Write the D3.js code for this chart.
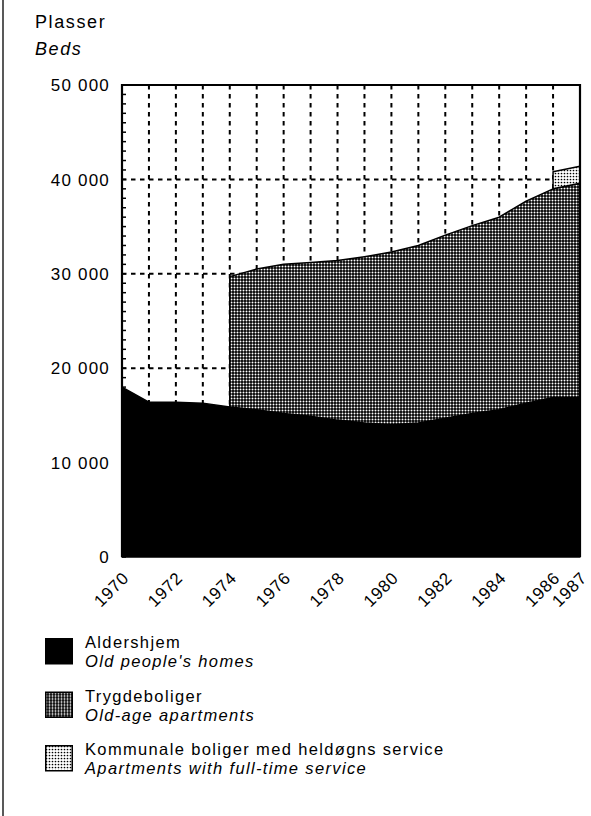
<!DOCTYPE html>
<html>
<head>
<meta charset="utf-8">
<script src="https://cdn.jsdelivr.net/npm/d3@7"></script>
<style>
  body { margin: 0; background: #fff; }
  svg text { font-family: "Liberation Sans", Arial, Helvetica, sans-serif; fill: #000; }
</style>
</head>
<body>
<div id="chart"></div>
<script>
// Years on the x axis
const years = [1970, 1971, 1972, 1973, 1974, 1975, 1976, 1977, 1978, 1979,
  1980, 1981, 1982, 1983, 1984, 1985, 1986, 1987]

// Beds per series (null = series not yet reported)
const aldershjem = [18000, 16400, 16400, 16300, 15900, 15600, 15200, 14900, 14500, 14200,
  14000, 14200, 14700, 15200, 15600, 16300, 16900, 16900]
const trygdeboliger = [null, null, null, null, 13800, 14900, 15800, 16300, 16900, 17600,
  18300, 18800, 19400, 19900, 20400, 21400, 22100, 22700]
const kommunale = [null, null, null, null, null, null, null, null, null, null,
  null, null, null, null, null, null, 1800, 1800]

const seriesKeys = ["aldershjem", "trygdeboliger", "kommunale"]
const seriesNames = [
  ["Aldershjem", "Old people's homes"],
  ["Trygdeboliger", "Old-age apartments"],
  ["Kommunale boliger med heldøgns service", "Apartments with full-time service"]
]

const yTicks = [0, 10000, 20000, 30000, 40000, 50000]
const xLabels = [1970, 1972, 1974, 1976, 1978, 1980, 1982, 1984, 1986, 1987]

const dimensions = {
  width: 591,
  height: 816,
  margin: { top: 85, right: 11, bottom: 259, left: 122 }
}
dimensions.boundedWidth = dimensions.width - dimensions.margin.left - dimensions.margin.right
dimensions.boundedHeight = dimensions.height - dimensions.margin.top - dimensions.margin.bottom

const rows = years.map((year, i) => ({
  year,
  aldershjem: aldershjem[i],
  trygdeboliger: trygdeboliger[i],
  kommunale: kommunale[i]
}))

const xScale = d3.scaleLinear()
  .domain([1970, 1987])
  .range([0, dimensions.boundedWidth])

const yScale = d3.scaleLinear()
  .domain([0, 50000])
  .range([dimensions.boundedHeight, 0])

const fmt = d3.formatLocale({ decimal: ",", thousands: " ", grouping: [3], currency: ["", ""] })
  .format(",d")

const svg = d3.select("#chart")
  .append("svg")
    .attr("width", dimensions.width)
    .attr("height", dimensions.height)

// Halftone fills
const defs = svg.append("defs")
const dense = defs.append("pattern")
  .attr("id", "dense")
  .attr("width", 3)
  .attr("height", 3)
  .attr("patternUnits", "userSpaceOnUse")
dense.append("rect").attr("width", 3).attr("height", 3).attr("fill", "#000")
dense.append("circle").attr("cx", 1.5).attr("cy", 1.5).attr("r", 1).attr("fill", "#fff")

const light = defs.append("pattern")
  .attr("id", "light")
  .attr("width", 3)
  .attr("height", 3)
  .attr("patternUnits", "userSpaceOnUse")
light.append("rect").attr("width", 3).attr("height", 3).attr("fill", "#fff")
light.append("circle").attr("cx", 1.5).attr("cy", 1.5).attr("r", 0.85).attr("fill", "#000")

const fills = ["#000", "url(#dense)", "url(#light)"]

// scanned page edge
svg.append("line")
  .attr("x1", 3).attr("x2", 3)
  .attr("y1", 0).attr("y2", dimensions.height)
  .attr("stroke", "#222")
  .attr("stroke-width", 1.5)

// Title
const title = svg.append("text")
  .attr("x", 35)
  .attr("y", 28)
  .style("font-size", "18px")
  .style("letter-spacing", "1.6px")
title.append("tspan").text("Plasser")
title.append("tspan")
  .attr("x", 35)
  .attr("dy", 27)
  .style("font-style", "italic")
  .text("Beds")

const bounds = svg.append("g")
  .attr("transform", `translate(${dimensions.margin.left}, ${dimensions.margin.top})`)

// Dashed grid, drawn under the areas
bounds.append("g")
  .selectAll("line")
  .data(years.slice(1, -1))
  .join("line")
    .attr("x1", d => xScale(d))
    .attr("x2", d => xScale(d))
    .attr("y1", 0)
    .attr("y2", dimensions.boundedHeight)
    .attr("stroke", "#000")
    .attr("stroke-width", 2)
    .attr("stroke-dasharray", "4.5,4.5")

bounds.append("g")
  .selectAll("line")
  .data(yTicks.slice(1, -1))
  .join("line")
    .attr("x1", 0)
    .attr("x2", dimensions.boundedWidth)
    .attr("y1", d => yScale(d))
    .attr("y2", d => yScale(d))
    .attr("stroke", "#000")
    .attr("stroke-width", 2)
    .attr("stroke-dasharray", "4.5,4.5")

// Stacked areas
const stacked = d3.stack()
  .keys(seriesKeys)
  .value((d, key) => d[key] == null ? 0 : d[key])(rows)

const area = key => d3.area()
  .defined(d => d.data[key] != null)
  .x(d => xScale(d.data.year))
  .y0(d => yScale(d[0]))
  .y1(d => yScale(d[1]))

bounds.append("g")
  .selectAll("path")
  .data(stacked)
  .join("path")
    .attr("d", s => area(s.key)(s))
    .attr("fill", (s, i) => fills[i])
    .attr("stroke", "#000")
    .attr("stroke-width", 1.5)
    .attr("stroke-linejoin", "round")

// Frame: top and right border, left axis with small ticks every 1000
bounds.append("path")
  .attr("d", `M0,${dimensions.boundedHeight}V0H${dimensions.boundedWidth}V${dimensions.boundedHeight}`)
  .attr("fill", "none")
  .attr("stroke", "#000")
  .attr("stroke-width", 2.2)

bounds.append("g")
  .selectAll("line")
  .data(d3.range(0, 50001, 1000))
  .join("line")
    .attr("x1", 0)
    .attr("x2", 4)
    .attr("y1", d => yScale(d))
    .attr("y2", d => yScale(d))
    .attr("stroke", "#000")
    .attr("stroke-width", 1.5)

bounds.append("g")
  .selectAll("text")
  .data(yTicks)
  .join("text")
    .attr("x", -12)
    .attr("y", d => yScale(d))
    .attr("dy", "0.36em")
    .attr("text-anchor", "end")
    .style("font-size", "17px")
    .style("letter-spacing", "1.2px")
    .text(d => fmt(d))

bounds.append("g")
  .selectAll("text")
  .data(xLabels)
  .join("text")
    .attr("transform", d => `translate(${xScale(d) + 8}, ${dimensions.boundedHeight + 22}) rotate(-45)`)
    .attr("text-anchor", "end")
    .style("font-size", "17px")
    .style("letter-spacing", "0.8px")
    .text(d => d)

// Legend
const legend = svg.append("g")
  .attr("transform", "translate(45, 638)")

const legendItem = legend.selectAll("g")
  .data(seriesNames)
  .join("g")
    .attr("transform", (d, i) => `translate(0, ${i * 53.5})`)

legendItem.append("rect")
  .attr("x", 0.75)
  .attr("y", 0.75)
  .attr("width", 26.5)
  .attr("height", 25)
  .attr("fill", (d, i) => fills[i])
  .attr("stroke", "#000")
  .attr("stroke-width", 1.5)

legendItem.append("text")
  .attr("x", 40)
  .attr("y", 10)
  .style("font-size", "16.5px")
  .style("letter-spacing", "1.35px")
  .text(d => d[0])

legendItem.append("text")
  .attr("x", 40)
  .attr("y", 29)
  .style("font-size", "16.5px")
  .style("letter-spacing", "1.35px")
  .style("font-style", "italic")
  .text(d => d[1])
</script>
</body>
</html>
